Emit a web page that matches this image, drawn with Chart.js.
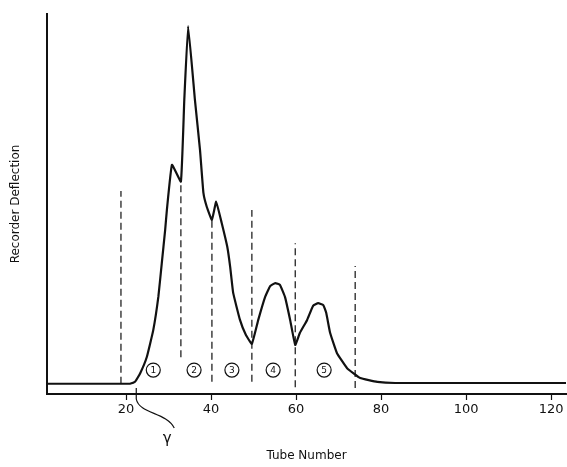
<!DOCTYPE html>
<html>
<head>
<meta charset="utf-8">
<script src="https://cdn.jsdelivr.net/npm/chart.js@4"></script>
<style>
  html, body { margin: 0; padding: 0; background: #fff; }
  #wrap { width: 567px; height: 467px; position: relative; }
</style>
</head>
<body>
<div id="wrap"><canvas id="chart"></canvas></div>
<script>
// elution profile
const tubes = [1.4, 20, 20.9, 22.1, 23.3, 24.9, 26.4, 27.6, 28.4, 29.2, 29.6, 30.8, 32.9, 33.7, 34.6,
  36.2, 37.4, 38.2, 39, 40.2, 41.2, 42.5, 43.8, 44.5, 45.2, 46.8, 48.2, 49.6,
  51.1, 52.7, 53.9, 55.1, 56.2, 57.4, 58.6, 59.8,
  60.9, 62.6, 64, 65.2, 66.4, 67.1, 68, 69.6, 72, 75.1, 79.1, 83.3, 123.5];
const deflection = [2.7, 2.7, 2.7, 3.2, 5.4, 9.8, 16.8, 25.6, 34.4, 43.2, 48.4, 60.3, 55.9, 77.4, 96.8,
  77.4, 64.2, 52.9, 49.2, 45.8, 50.6, 45, 38.8, 33.4, 26.6, 19.5, 15.5, 13.2,
  19.5, 25.5, 28.4, 29.2, 28.7, 25.5, 19.5, 12.9,
  16.1, 19.5, 23.2, 23.9, 23.4, 21.3, 16.1, 10.8, 6.8, 4.2, 3.2, 2.9, 2.9];

// fraction cuts (dashed lines)
const cutTubes = [18.8, 32.9, 40.2, 49.6, 59.8, 73.9];
const cutTop = [53.4, 55.5, 45.5, 48.4, 39.7, 33.7];
const cutBottom = [2.7, 9.7, 3.2, 3.2, 1.8, 1.6];

// circled fraction numbers
const fractionLabels = ['1', '2', '3', '4', '5'];
const fractionTubes = [26.4, 36, 44.9, 54.6, 66.6];
const fractionY = 6.3;

const gammaTube = 22.4;
const tickValues = [20, 40, 60, 80, 100, 120];

const ink = '#111';
const font = 'DejaVu Sans';

const datasets = [{
  data: tubes.map((t, i) => ({ x: t, y: deflection[i] })),
  borderColor: ink,
  borderWidth: 2.2,
  tension: 0.1,
  pointRadius: 0,
  fill: false
}];
cutTubes.forEach((t, i) => {
  datasets.push({
    data: [{ x: t, y: cutBottom[i] }, { x: t, y: cutTop[i] }],
    borderColor: ink,
    borderWidth: 1.2,
    borderDash: [7, 4],
    pointRadius: 0,
    tension: 0
  });
});

// circled numbers + gamma leader
const notes = {
  id: 'notes',
  afterDatasetsDraw(chart) {
    const { ctx, scales: { x, y } } = chart;
    ctx.save();
    ctx.strokeStyle = ink;
    ctx.fillStyle = ink;
    ctx.lineWidth = 1.2;
    ctx.font = '9px "' + font + '"';
    ctx.textAlign = 'center';
    ctx.textBaseline = 'middle';
    fractionTubes.forEach((t, i) => {
      const px = x.getPixelForValue(t);
      const py = y.getPixelForValue(fractionY);
      ctx.beginPath();
      ctx.arc(px, py, 7, 0, Math.PI * 2);
      ctx.stroke();
      ctx.fillText(fractionLabels[i], px, py + 0.5);
    });

    const gx = x.getPixelForValue(gammaTube);
    const gy = y.getPixelForValue(0);
    ctx.beginPath();
    ctx.moveTo(gx, gy - 6);
    ctx.lineTo(gx, gy + 5);
    ctx.bezierCurveTo(gx + 3, gy + 20, gx + 30, gy + 18, gx + 38, gy + 34);
    ctx.stroke();
    ctx.font = '15px "' + font + '"';
    ctx.fillText('γ', gx + 31, gy + 45);
    ctx.restore();
  }
};

new Chart(document.getElementById('chart'), {
  type: 'line',
  data: { datasets },
  plugins: [notes],
  options: {
    responsive: true,
    maintainAspectRatio: false,
    animation: false,
    layout: { padding: { top: 14, right: 1, left: 0, bottom: 0 } },
    plugins: { legend: { display: false }, tooltip: { enabled: false } },
    scales: {
      x: {
        type: 'linear',
        min: 1.4,
        max: 123.5,
        afterFit: s => { s.height = 73; },
        afterBuildTicks: s => { s.ticks = tickValues.map(v => ({ value: v })); },
        grid: { display: true, drawOnChartArea: false, drawTicks: true, tickLength: 6, tickColor: ink, tickWidth: 1.2 },
        border: { display: true, color: ink, width: 2 },
        ticks: { color: ink, font: { family: font, size: 13 }, padding: 2, maxRotation: 0 },
        title: { display: true, text: 'Tube Number', color: ink, font: { family: font, size: 12 }, padding: { top: 0, bottom: 4 } }
      },
      y: {
        min: 0,
        max: 100,
        afterFit: s => { s.width = 47; },
        grid: { display: false },
        border: { display: true, color: ink, width: 2 },
        ticks: { display: false },
        title: { display: true, text: 'Recorder Deflection', color: ink, font: { family: font, size: 12 }, padding: { top: 9, bottom: 0 } }
      }
    }
  }
});
</script>
</body>
</html>
